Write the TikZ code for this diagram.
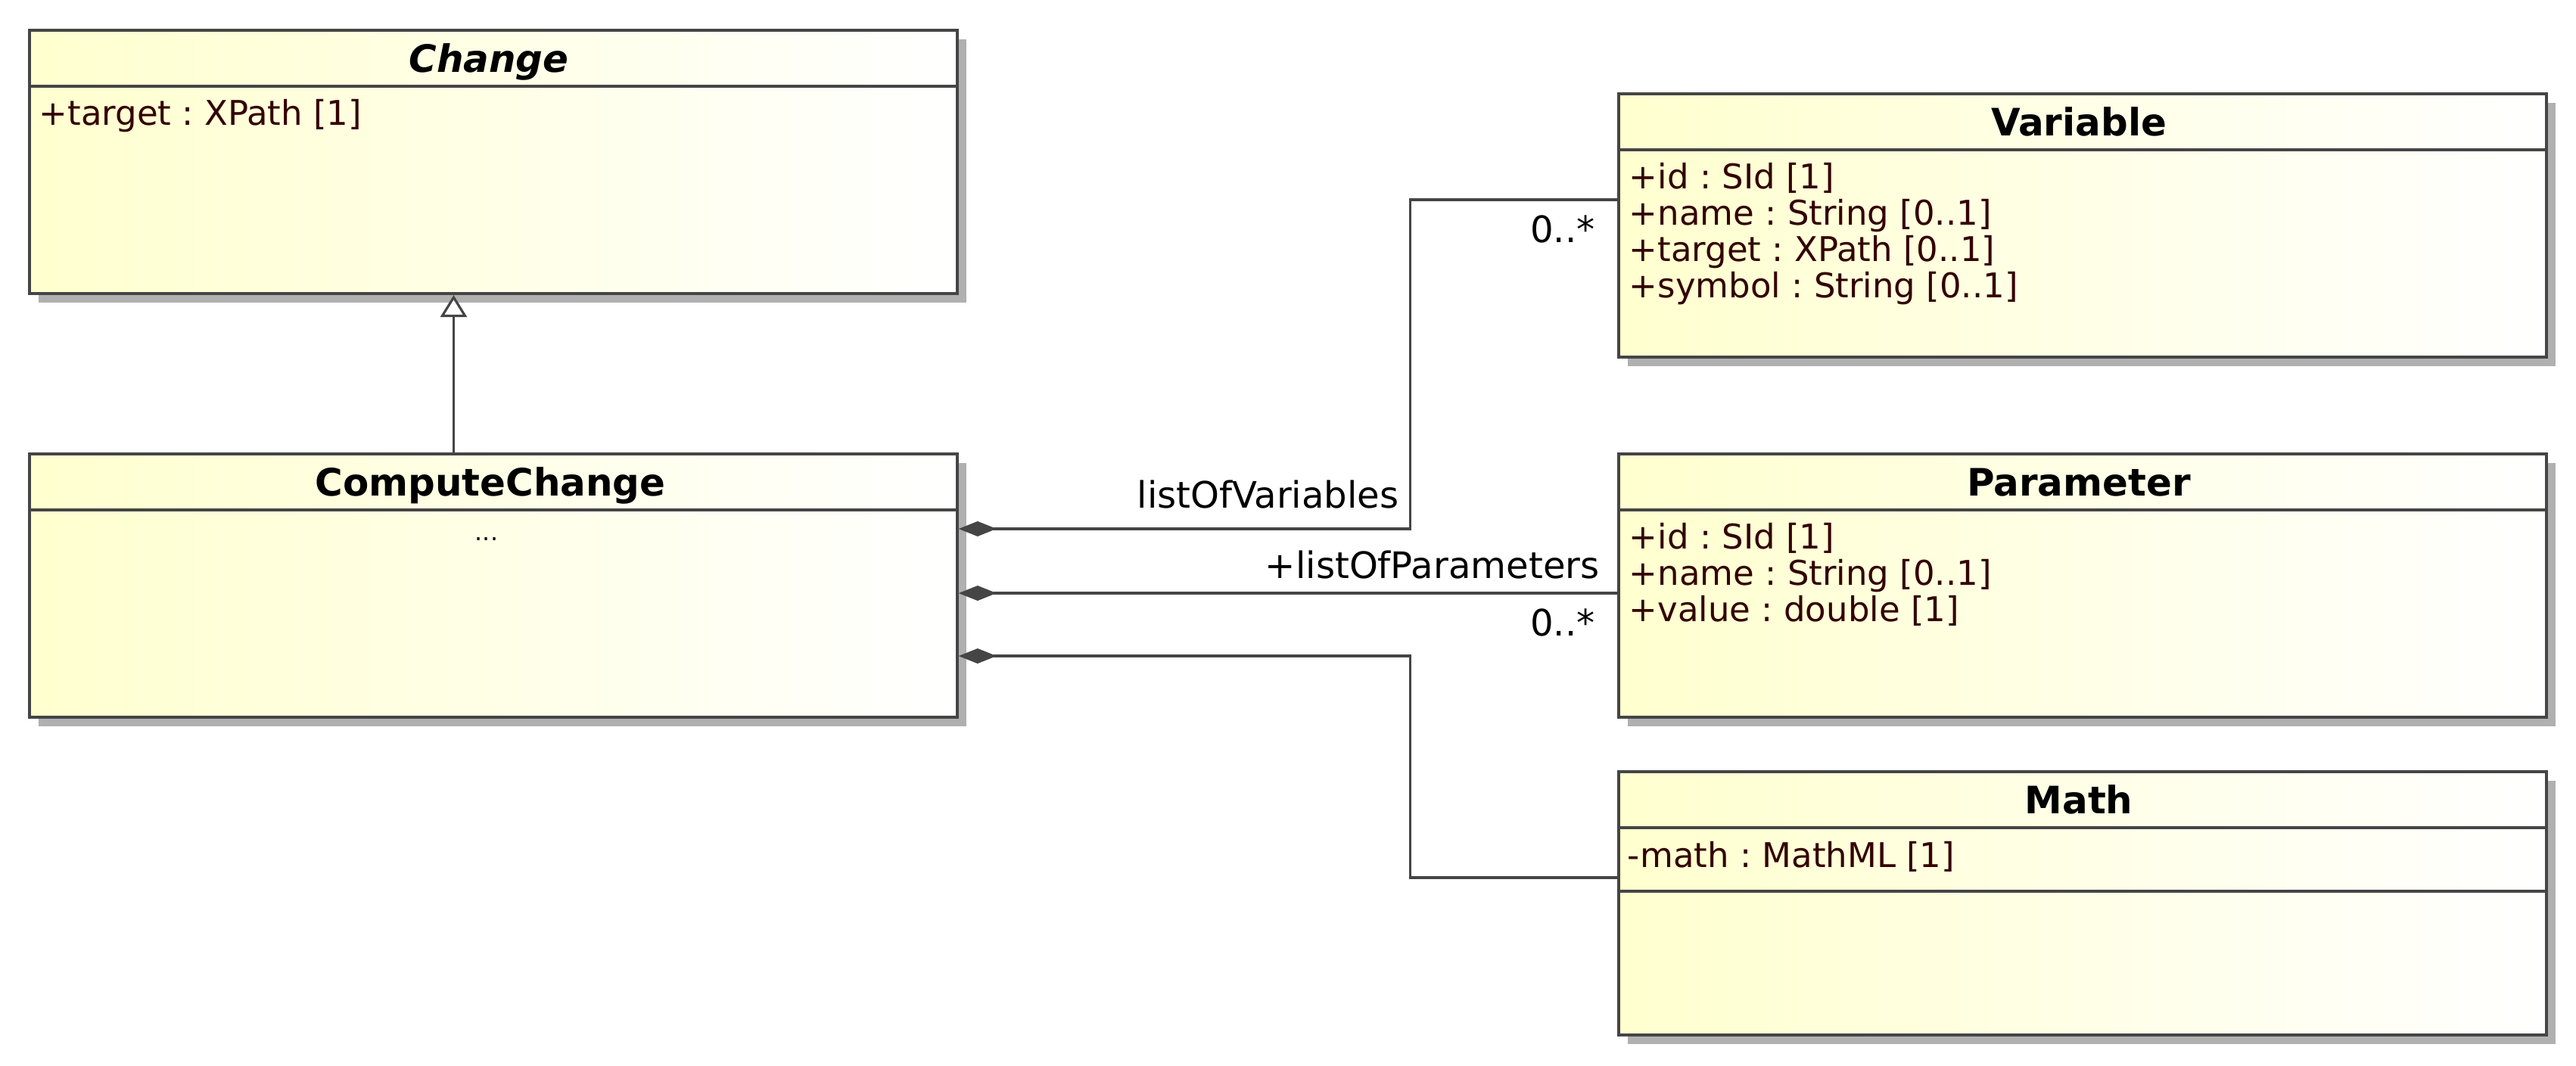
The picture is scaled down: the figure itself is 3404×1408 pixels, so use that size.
\documentclass[tikz,border=0pt]{standalone}
\usepackage{fontspec}
\setmainfont{DejaVu Sans}
\frenchspacing
\usepackage{tikz}
\usetikzlibrary{arrows.meta, positioning, shadows}
\definecolor{linegray}{HTML}{454545}
\definecolor{shadowgray}{HTML}{B0B0B0}
\definecolor{classyellow}{HTML}{FFFFCF}
\definecolor{attrbrown}{HTML}{330000}
\tikzset{
  classbox/.style = {rectangle, draw=linegray, line width=1.1pt, minimum width=12.25cm, minimum height=3.48cm,
    left color=classyellow, right color=white,
    drop shadow={shadow xshift=0.12cm, shadow yshift=-0.12cm, fill=shadowgray, opacity=1}},
  classname/.style = {anchor=base, inner sep=0pt, font=\fontsize{14.2}{17}\selectfont\bfseries},
  attr/.style = {anchor=base west, inner sep=0pt, text=attrbrown, font=\fontsize{12.8}{15}\selectfont},
  role/.style = {anchor=base east, inner sep=0pt, font=\fontsize{13.7}{16}\selectfont},
  divider/.style = {draw=linegray, line width=1.1pt},
  comp/.style = {{Diamond[length=0.5cm, width=0.2cm]}-, draw=linegray, line width=0.9pt},
  gen/.style = {-{Triangle[fill=white, length=0.29cm, width=0.35cm]}, draw=linegray, line width=0.9pt},
}

\begin{document}
\begin{tikzpicture}[x=0.01cm, y=-0.01cm]
    \useasboundingbox (0,0) rectangle (3404,1408);

    % Classes
    \node (Change) [classbox] at (652,214) {};
    \node (CC) [classbox] at (652,774) {};
    \node (Variable) [classbox] at (2752,298) {};
    \node (Parameter) [classbox] at (2752,774) {};
    \node (Math) [classbox] at (2752,1194) {};

    % Dividers
    \draw [divider] ([yshift=-0.76cm]Change.north west) -- ([yshift=-0.76cm]Change.north east);
    \draw [divider] ([yshift=-0.76cm]CC.north west) -- ([yshift=-0.76cm]CC.north east);
    \draw [divider] ([yshift=-0.76cm]Variable.north west) -- ([yshift=-0.76cm]Variable.north east);
    \draw [divider] ([yshift=-0.76cm]Parameter.north west) -- ([yshift=-0.76cm]Parameter.north east);
    \draw [divider] ([yshift=-0.76cm]Math.north west) -- ([yshift=-0.76cm]Math.north east);
    \draw [divider] ([yshift=-1.60cm]Math.north west) -- ([yshift=-1.60cm]Math.north east);

    % Names
    \node (chgName) [classname] at ([xshift=-0.06cm, yshift=-0.57cm]Change.north) {\itshape Change};
    \node (ccName) [classname] at ([xshift=-0.04cm, yshift=-0.57cm]CC.north) {ComputeChange};
    \node (varName) [classname] at ([xshift=-0.05cm, yshift=-0.57cm]Variable.north) {Variable};
    \node (parName) [classname] at ([xshift=-0.05cm, yshift=-0.57cm]Parameter.north) {Parameter};
    \node (mathName) [classname] at ([xshift=-0.05cm, yshift=-0.57cm]Math.north) {Math};

    % Attributes
    \node (chgA1) [attr] at ([xshift=0.14cm, yshift=-1.27cm]Change.north west) {+target : XPath [1]};
    \node (ccA1) [attr, anchor=base, text=black, font=\fontsize{9}{11}\selectfont] at ([xshift=-0.09cm, yshift=-1.16cm]CC.north) {...};
    \node (varA1) [attr] at ([xshift=0.15cm, yshift=-1.27cm]Variable.north west) {+id : SId [1]};
    \node (varA2) [attr] at ([xshift=0.15cm, yshift=-1.75cm]Variable.north west) {+name : String [0..1]};
    \node (varA3) [attr] at ([xshift=0.15cm, yshift=-2.23cm]Variable.north west) {+target : XPath [0..1]};
    \node (varA4) [attr] at ([xshift=0.15cm, yshift=-2.71cm]Variable.north west) {+symbol : String [0..1]};
    \node (parA1) [attr] at ([xshift=0.15cm, yshift=-1.27cm]Parameter.north west) {+id : SId [1]};
    \node (parA2) [attr] at ([xshift=0.15cm, yshift=-1.75cm]Parameter.north west) {+name : String [0..1]};
    \node (parA3) [attr] at ([xshift=0.15cm, yshift=-2.23cm]Parameter.north west) {+value : double [1]};
    \node (mathA1) [attr] at ([xshift=0.13cm, yshift=-1.28cm]Math.north west) {-math : MathML [1]};

    % Connectors
    \draw [gen] ([xshift=-0.525cm]CC.north) -- ([xshift=-0.525cm]Change.south);
    \draw [comp] ([yshift=0.75cm]CC.east) -- ++(5.96cm,0)
        node (varRole) [role, pos=1, xshift=-0.13cm, yshift=0.27cm] {listOfVariables}
        |- ([yshift=0.34cm]Variable.west)
        node (varMult) [role, xshift=-0.28cm, yshift=-0.56cm] {0..*};
    \draw [comp] ([yshift=-0.10cm]CC.east) -- ([yshift=-0.10cm]Parameter.west)
        node (parRole) [role, xshift=-0.22cm, yshift=0.20cm] {+listOfParameters}
        node (parMult) [role, xshift=-0.28cm, yshift=-0.56cm] {0..*};
    \draw [comp] ([yshift=-0.93cm]CC.east) -- ++(5.96cm,0) |- ([yshift=0.34cm]Math.west);

\end{tikzpicture}
\end{document}
